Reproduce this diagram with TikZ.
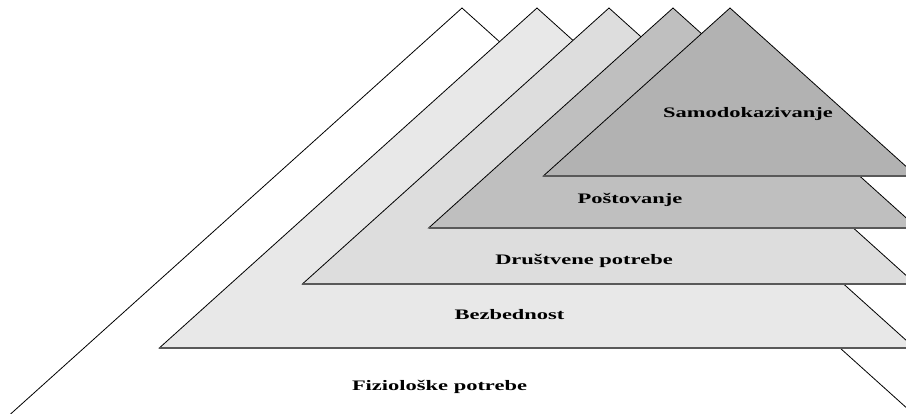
\documentclass[tikz,border=0pt]{standalone}
\usepackage{fontspec}
\setmainfont{Liberation Serif}
\begin{document}
\begin{tikzpicture}[x=1pt,y=-1pt,
  tri/.style={draw=black,line width=0.8pt,line join=miter},
  baseline/.style={draw=black!65,line width=1.4pt},
  lbl/.style={anchor=base,inner sep=0pt,font=\fontsize{14.5}{16}\selectfont\bfseries}]
\useasboundingbox (0,0) rectangle (906,414);
\clip (0,0) rectangle (906,414);
% layer 1 (white)
\filldraw[tri,fill=white] (-85,500) -- (462,8) -- (1009,500) -- cycle;
% layer 2
\filldraw[tri,fill=black!9] (159.3,348) -- (537,8) -- (914.7,348) -- cycle;
\draw[baseline] (159.3,348) -- (914.7,348);
% layer 3
\filldraw[tri,fill=black!13.5] (302.4,284) -- (609,8) -- (915.6,284) -- cycle;
\draw[baseline] (302.4,284) -- (915.6,284);
% layer 4
\filldraw[tri,fill=black!25] (428.6,228) -- (673,8) -- (917.4,228) -- cycle;
\draw[baseline] (428.6,228) -- (917.4,228);
% layer 5
\filldraw[tri,fill=black!30] (543.3,176) -- (730,8) -- (916.7,176) -- cycle;
\draw[baseline] (543.3,176) -- (916.7,176);
% labels
\node[lbl] (samo) at (748,117.5) {\scalebox{1.55}[1]{Samodokazivanje}};
\node[lbl] (post) at (630,204) {\scalebox{1.55}[1]{Poštovanje}};
\node[lbl] (drus) at (584,265) {\scalebox{1.55}[1]{Društvene potrebe}};
\node[lbl] (bezb) at (509.5,320) {\scalebox{1.55}[1]{Bezbednost}};
\node[lbl] (fizi) at (439.5,391) {\scalebox{1.55}[1]{Fiziološke potrebe}};
\end{tikzpicture}
\end{document}
